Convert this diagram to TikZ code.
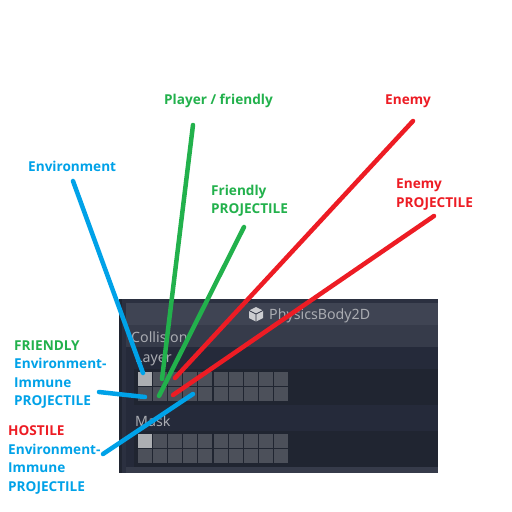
\documentclass[tikz,border=0pt]{standalone}
\usepackage{fontspec}
\setmainfont{Open Sans}
\newfontfamily\godotfont{Noto Sans}
\definecolor{enviroblue}{RGB}{0, 162, 232}
\definecolor{friendgreen}{RGB}{34, 177, 76}
\definecolor{enemyred}{RGB}{237, 28, 36}
\definecolor{panelout}{RGB}{43, 48, 64}
\definecolor{panelback}{RGB}{37, 42, 58}
\definecolor{headbar}{RGB}{63, 68, 83}
\definecolor{sectbar}{RGB}{54, 59, 74}
\definecolor{gridback}{RGB}{32, 37, 49}
\definecolor{cellgrey}{RGB}{76, 80, 90}
\definecolor{cellon}{RGB}{172, 174, 178}
\definecolor{godottext}{RGB}{170, 172, 178}
\tikzset{
    callout/.style={font=\bfseries\fontsize{13.6}{18.5}\selectfont, anchor=west, align=left, inner sep=0pt},
    paneltext/.style={font=\godotfont\fontsize{14.2}{14.2}\selectfont, text=godottext, anchor=west, inner sep=0pt},
    pointer/.style={line width=4.5pt, line cap=round}
}
\begin{document}
\begin{tikzpicture}[x=1pt, y=-1pt]
    \useasboundingbox (0,0) rectangle (512,512);
    \fill[white] (0,0) rectangle (512,512);

    % Inspector panel
    \fill[panelout] (119,299) rectangle (438,473);
    \fill[gridback] (119,299) rectangle (122,473);
    \fill[headbar] (126,303) rectangle (438,325);
    \fill[sectbar] (126,325) rectangle (438,347);
    \fill[panelback] (126,347) rectangle (438,467);
    \fill[sectbar] (126,467) rectangle (438,473);
    \fill[gridback] (134,369) rectangle (438,405);
    \fill[gridback] (134,431) rectangle (438,467);

    % Layer and mask cells
    \foreach \row in {372,387,434,449} {
        \foreach \x in {138,153,168,183,198,214,229,244,259,274} {
            \fill[cellgrey] (\x,\row) rectangle (\x+14,\row+14);
        }
    }
    \fill[cellon] (138,372) rectangle (152,386);
    \fill[cellon] (138,434) rectangle (152,448);

    % Panel labels
    \node[paneltext] (title) at (269,315.5) {PhysicsBody2D};
    \node[paneltext] (collision) at (131,337) {Collision};
    \node[paneltext] (layer) at (135,359) {Layer};
    \node[paneltext] (mask) at (135,421.5) {Mask};
    \fill[godottext!60!white] (256,307) -- (263,310.5) -- (263,318) -- (256,321.5) -- (249,318) -- (249,310.5) -- cycle;
    \draw[panelout, line width=0.8pt] (249,310.5) -- (256,314) -- (263,310.5) (256,314) -- (256,321.5);

    % Callout labels
    \node[callout, text=friendgreen] (playerlabel) at (164,101) {Player / friendly};
    \node[callout, text=enemyred] (enemylabel) at (385,101) {Enemy};
    \node[callout, text=enviroblue] (envlabel) at (28,166) {Environment};
    \node[callout, text=friendgreen] (friendlabel) at (211,201) {Friendly\\PROJECTILE};
    \node[callout, text=enemyred] (enemyprojlabel) at (396,194.5) {Enemy\\PROJECTILE};
    \node[callout, text=enviroblue] (immunefriend) at (14,374.5) {\textcolor{friendgreen}{FRIENDLY}\\Environment-\\Immune\\PROJECTILE};
    \node[callout, text=enviroblue] (immunehostile) at (8,460) {\textcolor{enemyred}{HOSTILE}\\Environment-\\Immune\\PROJECTILE};

    % Pointer ends
    \coordinate (envstart) at (73,181);
    \coordinate (envend) at (143,373);
    \coordinate (playerstart) at (193,125);
    \coordinate (playerend) at (162,379);
    \coordinate (friendstart) at (244,227);
    \coordinate (friendend) at (159,396);
    \coordinate (enemystart) at (413,121);
    \coordinate (enemyend) at (175,378);
    \coordinate (enemyprojstart) at (434,216);
    \coordinate (enemyprojend) at (173,395);
    \coordinate (immunestart) at (99,392);
    \coordinate (immuneend) at (145,397);
    \coordinate (hostilestart) at (103,454);
    \coordinate (hostileend) at (193,394);

    \draw[pointer, enviroblue] (envstart) -- (envend);
    \draw[pointer, friendgreen] (playerstart) -- (playerend);
    \draw[pointer, friendgreen] (friendstart) -- (friendend);
    \draw[pointer, enemyred] (enemystart) -- (enemyend);
    \draw[pointer, enemyred] (enemyprojstart) -- (enemyprojend);
    \draw[pointer, enviroblue] (immunestart) -- (immuneend);
    \draw[pointer, enviroblue] (hostilestart) -- (hostileend);
\end{tikzpicture}
\end{document}
